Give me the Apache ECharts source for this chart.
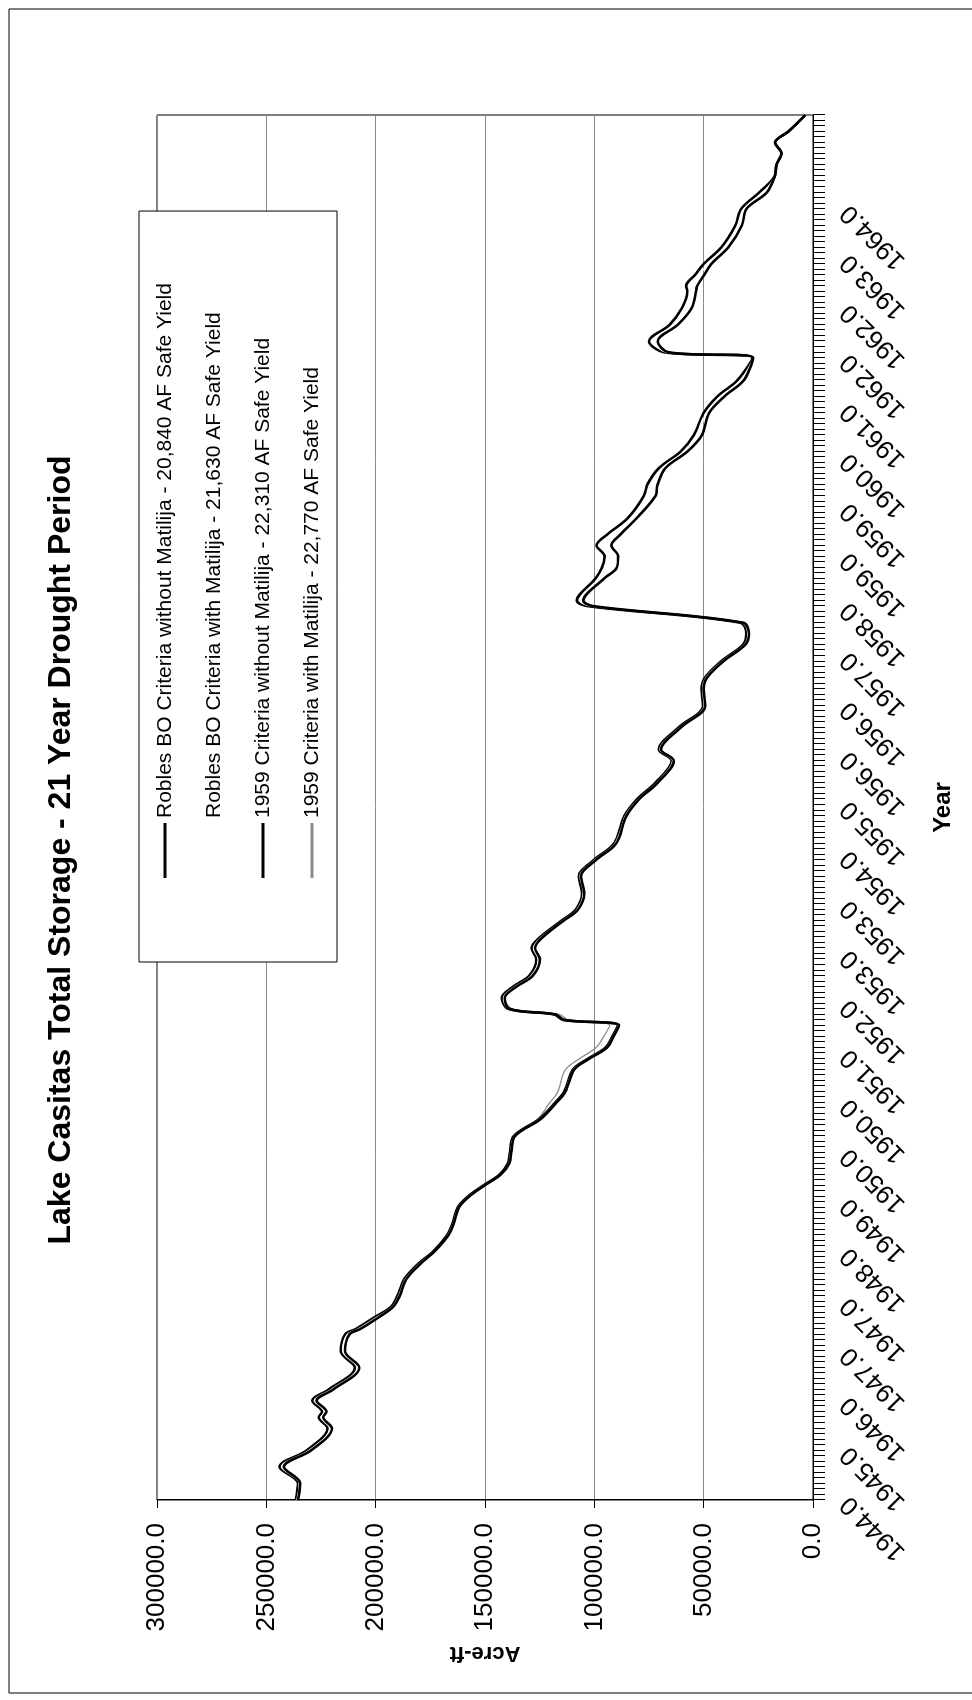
<!DOCTYPE html>
<html>
<head>
<meta charset="utf-8">
<script src="https://cdn.jsdelivr.net/npm/echarts@6/dist/echarts.min.js"></script>
<style>
html,body{margin:0;padding:0;width:972px;height:1700px;overflow:hidden;background:#fff;}
#chart{position:absolute;left:0;top:0;width:1700px;height:972px;transform-origin:0 0;transform:translate(0,1700px) rotate(-90deg);}
</style>
</head>
<body>
<div id="chart"></div>
<script>
// Monthly categories, Oct 1944 .. Sep 1965 (labels shown as year with one decimal)
const startYear = 1944;
const monthCount = 252;
const categories = [];
for (let i = 0; i < monthCount; i++) {
  categories.push((startYear + Math.floor((9 + i) / 12)).toFixed(1));
}

const seriesNames = [
  'Robles BO Criteria without Matilija - 20,840 AF Safe Yield',
  'Robles BO Criteria with Matilija - 21,630 AF Safe Yield',
  '1959 Criteria without Matilija - 22,310 AF Safe Yield',
  '1959 Criteria with Matilija - 22,770 AF Safe Yield'
];

// month index (0 = first category) of each read value
const sampleMonths = [
  0,3,6,9,13,15,16,18,20,24,
  27,30,31,33,35,37,40,43,45,48,
  50,53,55,57,59,61,63,66,69,72,
  74,78,80,82,84,86,87,88,89,91,
  93,95,98,100,102,105,107,110,113,116,
  119,124,127,130,134,136,140,144,147,149,
  152,155,157,159,162,163,167,169,171,173,
  175,178,182,184,187,190,193,197,200,203,
  207,208,210,213,216,219,220,222,224,227,
  231,234,237,240,242,244,246,248,251
];

const roblesWithout = [
  236500,235500,244000,231500,222000,226000,224500,229000,221500,209500,
  216000,214000,209000,201000,193000,190000,187000,180000,173800,167300,
  165000,162500,157800,150800,143300,139500,138600,136800,125300,118000,
  113800,109800,102800,94800,91800,89300,114300,118300,139300,142300,
  137300,129800,126500,128700,124800,115000,108500,105600,107100,100200,
  91000,86300,80500,72000,64700,70500,61500,50300,51000,49500,
  42000,32000,30500,33300,103000,108000,99500,96500,95300,99000,
  94000,84600,77300,75800,70500,60500,54500,50000,43700,34400,
  27600,68000,75000,65500,60000,57500,58000,54000,50000,42000,
  35500,32800,24500,17400,16700,14400,17400,11300,3500
];

const roblesWith = [
  236000,235000,243000,230500,221000,225000,223500,228000,220500,208500,
  215000,213000,208000,200000,192500,189500,186500,179500,173500,167000,
  164700,162200,157500,150500,143000,139200,138300,136500,125000,117700,
  113500,109500,102500,94500,91500,89000,114000,118000,139000,141600,
  136500,129000,125700,127900,124200,114500,108000,105100,106600,99700,
  90500,85800,80000,71500,64200,70000,61000,49800,50500,49000,
  41500,31500,29900,32600,101700,106500,97500,93100,92200,95600,
  91000,82500,74600,73400,69000,59000,52600,48700,42100,33000,
  27500,67000,73000,63600,57700,55500,55500,51900,48200,40400,
  34000,31600,22700,17400,16700,14400,17400,11300,3500
];

const c1959Without = [
  235500,234500,242000,229500,220000,224000,222500,227000,219500,207500,
  214000,212000,207000,199000,192000,189000,186000,179000,173200,166700,
  164400,161900,157200,150200,142700,138900,138000,136200,124700,117400,
  113200,109200,102200,94200,91200,88700,113700,117700,138700,141000,
  135700,128200,124900,127100,123600,114000,107500,104600,106100,99200,
  90000,85300,79500,71000,63700,69500,60500,49300,50000,48500,
  41000,31000,29300,32000,100500,105000,95500,89700,89100,92200,
  88000,80500,72000,71100,67500,57500,50800,47500,40500,31500,
  27400,66000,71000,61800,55500,53500,53000,49800,46500,38800,
  32500,30400,21000,17400,16700,14400,17400,11300,3500
];

const c1959With = [
  235500,234500,242000,229500,220000,224000,222500,227000,219500,207500,
  214000,212000,207000,199000,192000,189000,186000,179000,173200,166700,
  164400,161900,157200,150200,142700,138900,138000,136200,126000,120400,
  116700,113200,106700,99200,95700,93000,112000,116000,137500,141000,
  135700,128200,124900,127100,123600,114000,107500,104600,106100,99200,
  90000,85300,79500,71000,63700,69500,60500,49300,50000,48500,
  41000,31000,29300,32000,100500,105000,95500,89700,89100,92200,
  88000,80500,72000,71100,67500,57500,50800,47500,40500,31500,
  27400,66000,71000,61800,55500,53500,53000,49800,46500,38800,
  32500,30400,21000,17400,16700,14400,17400,11300,3500
];

const FONT = 'Liberation Sans, Arial, Helvetica, sans-serif';

function pairs(vals) {
  return sampleMonths.map((m, i) => [m, vals[i]]);
}

function mkSeries(name, vals, color, width, z) {
  return {
    name: name, type: 'line', data: pairs(vals), smooth: 0.35,
    symbol: 'none', color: color, z: z,
    lineStyle: { color: color, width: width },
    emphasis: { disabled: true }
  };
}

const chart = echarts.init(document.getElementById('chart'), null, { renderer: 'canvas' });
chart.setOption({
  animation: false,
  backgroundColor: '#ffffff',
  textStyle: { fontFamily: FONT, color: '#000' },
  title: {
    text: 'Lake Casitas Total Storage - 21 Year Drought Period',
    left: 'center', top: 40,
    textStyle: { fontFamily: FONT, fontSize: 32, fontWeight: 'bold', color: '#000' }
  },
  legend: {
    orient: 'vertical', left: 738, top: 139,
    padding: [14, 72, 13, 84],
    itemGap: 25, itemWidth: 55, itemHeight: 3, icon: 'rect',
    borderColor: '#000', borderWidth: 1, backgroundColor: '#fff',
    selectedMode: false,
    textStyle: { fontFamily: FONT, fontSize: 21, lineHeight: 24, color: '#000' },
    data: seriesNames
  },
  grid: {
    left: 200, right: 115, top: 157, bottom: 159,
    show: true, borderColor: '#000', borderWidth: 1, backgroundColor: 'transparent'
  },
  xAxis: {
    type: 'category', data: categories, boundaryGap: false,
    name: 'Year', nameLocation: 'middle', nameGap: 118,
    nameTextStyle: { fontFamily: FONT, fontSize: 24, fontWeight: 'bold', color: '#000' },
    axisLine: { show: true, lineStyle: { color: '#000', width: 1 } },
    axisTick: { show: true, interval: 0, length: 12, lineStyle: { color: '#000', width: 1 } },
    axisLabel: {
      rotate: 45, margin: 32, fontSize: 26, fontFamily: FONT, color: '#000',
      interval: function (idx) { return idx % 9 === 0 && idx <= 234; }
    },
    splitLine: { show: false }
  },
  yAxis: {
    type: 'value', min: 0, max: 300000, interval: 50000,
    name: 'Acre-ft', nameLocation: 'middle', nameGap: 140, nameRotate: 90,
    nameTextStyle: { fontFamily: FONT, fontSize: 22, fontWeight: 'bold', color: '#000' },
    axisLine: { show: true, lineStyle: { color: '#000', width: 1 } },
    axisTick: { show: true, length: 8, lineStyle: { color: '#000' } },
    axisLabel: {
      margin: 23, fontSize: 26, fontFamily: FONT, color: '#000',
      formatter: function (v) { return v.toFixed(1); }
    },
    splitLine: { show: true, lineStyle: { color: '#8a8a8a', width: 1 } }
  },
  graphic: [{
    type: 'rect', silent: true, z: -1,
    shape: { x: 7, y: 9, width: 1684, height: 1200 },
    style: { fill: 'none', stroke: '#000', lineWidth: 1 }
  }],
  series: [
    mkSeries(seriesNames[3], c1959With, '#8c8c8c', 1.3, 2),
    mkSeries(seriesNames[0], roblesWithout, '#000000', 2.6, 3),
    mkSeries(seriesNames[1], roblesWith, '#ffffff', 1.2, 4),
    mkSeries(seriesNames[2], c1959Without, '#000000', 2.6, 5)
  ]
});
</script>
</body>
</html>
